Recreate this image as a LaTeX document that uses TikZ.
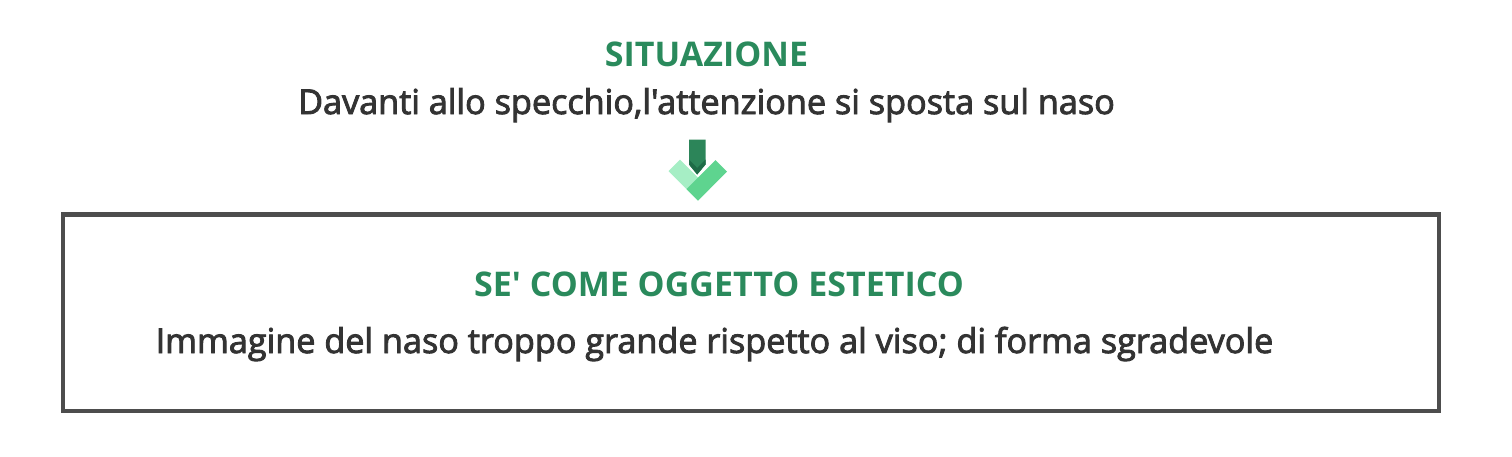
\documentclass[tikz,border=0pt]{standalone}
\usepackage{fontspec}
\setmainfont{Open Sans}
\newfontfamily\bodyfont{Open Sans}[FakeBold=2.6]
\newfontfamily\headfont{Open Sans}
\definecolor{headgreen}{HTML}{2A8A5C}
\definecolor{bodytext}{HTML}{333333}
\definecolor{boxline}{HTML}{4D4D4D}
\definecolor{arrowdark}{HTML}{2C8559}
\definecolor{arrowdeep}{HTML}{1E6B47}
\definecolor{arrowlight}{HTML}{A6EEC5}
\definecolor{arrowmid}{HTML}{5ED48F}
\tikzset{
  heading/.style={anchor=base, text=headgreen, font=\headfont\fontsize{17}{20}\selectfont\bfseries, inner sep=0pt},
  bodyline/.style={anchor=base, text=bodytext, font=\bodyfont\fontsize{17.1}{20}\selectfont, inner sep=0pt},
  framebox/.style={draw=boxline, line width=2.3pt, minimum width=688pt, minimum height=98.25pt, inner sep=0pt}
}
\begin{document}
\begin{tikzpicture}[x=0.5pt,y=-0.5pt]
\useasboundingbox (0,0) rectangle (1512,456);
\node[heading] (sit) at (706.5,66) {SITUAZIONE};
\node[bodyline] (sittext) at (706.5,114) {Davanti allo specchio,l'attenzione si sposta sul naso};
% arrow icon
\fill[arrowlight] (698,200.5) -- (668.5,171) -- (680,159.5) -- (709.5,189) -- cycle;
\fill[arrowmid] (698,200.5) -- (727,171.5) -- (715.5,160) -- (686.5,189) -- cycle;
\fill[arrowdark] (689,139.5) -- (705.5,139.5) -- (705.5,164.5) -- (697.2,174.5) -- (689,164.5) -- cycle;
\fill[arrowdeep] (689,159.5) -- (697.2,168) -- (705.5,159.5) -- (705.5,164.5) -- (697.2,174.5) -- (689,164.5) -- cycle;
\node[framebox] (box) at (751,312.75) {};
\node[heading] (se) at (719,296) {SE' COME OGGETTO ESTETICO};
\node[bodyline] (setext) at (714.5,353) {Immagine del naso troppo grande rispetto al viso; di forma sgradevole};
\end{tikzpicture}
\end{document}
